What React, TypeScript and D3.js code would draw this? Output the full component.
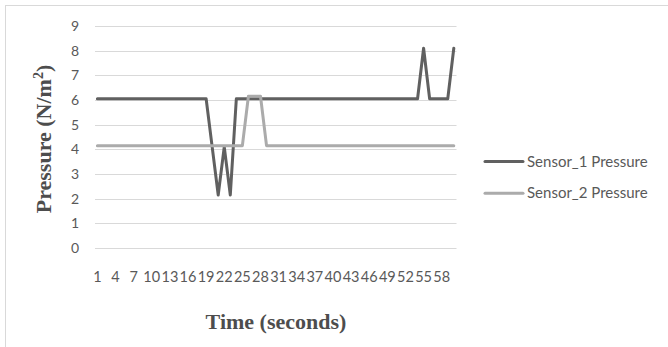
import React, { useEffect, useRef } from 'react'
import * as d3 from 'd3'

const W = 668
const H = 347

// time in seconds (category axis), one reading per second
const times = [
  1, 2, 3, 4, 5, 6, 7, 8, 9, 10, 11, 12, 13, 14, 15, 16, 17, 18, 19, 20,
  21, 22, 23, 24, 25, 26, 27, 28, 29, 30, 31, 32, 33, 34, 35, 36, 37, 38, 39, 40,
  41, 42, 43, 44, 45, 46, 47, 48, 49, 50, 51, 52, 53, 54, 55, 56, 57, 58, 59, 60,
]

const sensor1 = [
  6.05, 6.05, 6.05, 6.05, 6.05, 6.05, 6.05, 6.05, 6.05, 6.05,
  6.05, 6.05, 6.05, 6.05, 6.05, 6.05, 6.05, 6.05, 6.05, 4.1,
  2.15, 4.1, 2.15, 6.05, 6.05, 6.05, 6.05, 6.05, 6.05, 6.05,
  6.05, 6.05, 6.05, 6.05, 6.05, 6.05, 6.05, 6.05, 6.05, 6.05,
  6.05, 6.05, 6.05, 6.05, 6.05, 6.05, 6.05, 6.05, 6.05, 6.05,
  6.05, 6.05, 6.05, 6.05, 8.1, 6.05, 6.05, 6.05, 6.05, 8.1,
]

const sensor2 = [
  4.15, 4.15, 4.15, 4.15, 4.15, 4.15, 4.15, 4.15, 4.15, 4.15,
  4.15, 4.15, 4.15, 4.15, 4.15, 4.15, 4.15, 4.15, 4.15, 4.15,
  4.15, 4.15, 4.15, 4.15, 4.15, 6.15, 6.15, 6.15, 4.15, 4.15,
  4.15, 4.15, 4.15, 4.15, 4.15, 4.15, 4.15, 4.15, 4.15, 4.15,
  4.15, 4.15, 4.15, 4.15, 4.15, 4.15, 4.15, 4.15, 4.15, 4.15,
  4.15, 4.15, 4.15, 4.15, 4.15, 4.15, 4.15, 4.15, 4.15, 4.15,
]

const yTicks = [0, 1, 2, 3, 4, 5, 6, 7, 8, 9]
const seriesNames = ['Sensor_1 Pressure', 'Sensor_2 Pressure']
const seriesColors = ['#606060', '#ababab']

const sans = 'Lato, "Open Sans", sans-serif'
const serif = '"Liberation Serif", "Times New Roman", serif'

export default function App() {
  const ref = useRef<SVGSVGElement | null>(null)

  useEffect(() => {
    if (!ref.current) return
    const svg = d3.select(ref.current)
    svg.selectAll('*').remove()

    const x = d3.scalePoint<number>().domain(times).range([97.4, 453.8])
    const y = d3.scaleLinear().domain([0, 9]).range([248, 26])

    // chart frame (cut off at right/bottom like the source)
    svg.append('rect')
      .attr('x', 5.5).attr('y', 5.5)
      .attr('width', W + 10).attr('height', H + 10)
      .attr('fill', '#fff')
      .attr('stroke', '#d9d9d9')

    // gridlines
    svg.append('g')
      .selectAll('line')
      .data(yTicks)
      .join('line')
      .attr('x1', 95).attr('x2', 456.5)
      .attr('y1', (d) => Math.round(y(d)) + 0.5)
      .attr('y2', (d) => Math.round(y(d)) + 0.5)
      .attr('stroke', '#d9d9d9')

    // y tick labels
    svg.append('g')
      .selectAll('text')
      .data(yTicks)
      .join('text')
      .attr('x', 79)
      .attr('y', (d) => y(d) + 5)
      .attr('text-anchor', 'end')
      .style('font-family', sans)
      .style('font-size', '14px')
      .style('fill', '#595959')
      .text((d) => d)

    // x tick labels, every third second
    svg.append('g')
      .selectAll('text')
      .data(times.filter((_, i) => i % 3 === 0))
      .join('text')
      .attr('x', (d) => x(d)!)
      .attr('y', 282)
      .attr('text-anchor', 'middle')
      .style('font-family', sans)
      .style('font-size', '14.5px')
      .style('fill', '#595959')
      .text((d) => d)

    const line = d3.line<number>()
      .x((_, i) => x(times[i])!)
      .y((d) => y(d))

    ;[sensor1, sensor2].forEach((s, k) => {
      svg.append('path')
        .datum(s)
        .attr('d', line)
        .attr('fill', 'none')
        .attr('stroke', seriesColors[k])
        .attr('stroke-width', 3)
        .attr('stroke-linejoin', 'round')
        .attr('stroke-linecap', 'round')
    })

    // axis titles
    svg.append('text')
      .attr('x', 276).attr('y', 329)
      .attr('text-anchor', 'middle')
      .style('font-family', serif)
      .style('font-weight', 'bold')
      .style('font-size', '22px')
      .style('fill', '#4d4d4d')
      .text('Time (seconds)')

    const yt = svg.append('text')
      .attr('transform', 'translate(51,139) rotate(-90)')
      .attr('text-anchor', 'middle')
      .style('font-family', serif)
      .style('font-weight', 'bold')
      .style('font-size', '22px')
      .style('fill', '#4d4d4d')
    yt.append('tspan').text('Pressure (N/m')
    yt.append('tspan').attr('dy', -8).style('font-size', '14px').text('2')
    yt.append('tspan').attr('dy', 8).text(')')

    // legend
    const legend = svg.append('g')
      .selectAll('g')
      .data(seriesNames)
      .join('g')
      .attr('transform', (_, i) => `translate(485,${161.5 + i * 31.8})`)
    legend.append('line')
      .attr('x1', 0).attr('x2', 38)
      .attr('stroke', (_, i) => seriesColors[i])
      .attr('stroke-width', 3)
      .attr('stroke-linecap', 'round')
    legend.append('text')
      .attr('x', 42).attr('y', 5)
      .style('font-family', sans)
      .style('font-size', '15px')
      .style('fill', '#595959')
      .text((d) => d)
  }, [])

  return (
    <svg
      ref={ref}
      width={W}
      height={H}
      style={{ position: 'absolute', left: 0, top: 0, display: 'block' }}
      role="img"
      aria-label="Sensor pressure over time"
    />
  )
}
